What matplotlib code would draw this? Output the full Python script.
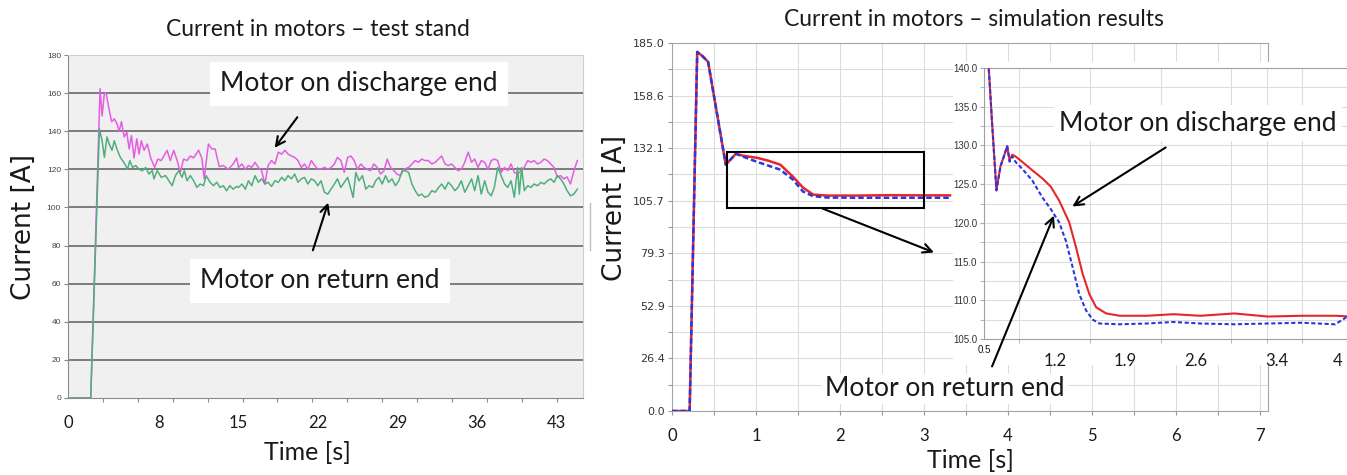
import numpy as np
import matplotlib
matplotlib.use("Agg")
import matplotlib.pyplot as plt
from matplotlib.patches import Rectangle, FancyArrowPatch
from matplotlib.lines import Line2D
from matplotlib.ticker import MultipleLocator, FixedLocator

# ---- test stand data ----
t_dis = [0, 2.0, 2.82, 3.0, 3.2, 3.35, 3.63, 3.84, 4.07, 4.3, 4.5, 4.7, 4.94, 5.17, 5.38, 5.58, 5.81, 6.05,
         6.25, 6.45, 6.69, 6.98, 7.27, 7.62, 7.9, 8.2, 8.43, 8.72, 9.0, 9.3, 9.6, 9.88, 10.17, 10.47, 10.76,
         11.05, 11.48, 11.77, 11.98, 12.35, 12.65, 12.94, 13.3, 13.66, 14.1, 14.53, 14.83,
         15.0, 15.3, 15.6, 15.87, 16.16, 16.45, 16.74, 17.03, 17.32, 17.6, 17.9, 18.2, 18.5, 18.8, 19.07,
         19.36, 19.65, 19.94, 20.23, 20.52, 20.8, 21.1, 21.4, 21.7, 21.97, 22.26, 22.55, 22.85, 23.14, 23.43,
         23.7, 24.0, 24.3, 24.6, 24.88, 25.17, 25.46, 25.75, 26.04, 26.33, 26.6, 26.9, 27.2, 27.5, 27.8,
         28.08, 28.37, 28.66, 28.95, 29.24, 29.53,
         29.96, 30.25, 30.54, 30.83, 31.1, 31.4, 31.7, 32.0, 32.3, 32.6, 32.87, 33.16, 33.45, 33.74, 34.03,
         34.3, 34.6, 34.9, 35.2, 35.5, 35.77, 36.07, 36.35, 36.65, 36.94, 37.23, 37.5, 37.8, 38.1, 38.4,
         38.68, 38.97, 39.26, 39.55, 39.84, 40.14, 40.43, 40.72, 41.0, 41.3, 41.6, 41.88, 42.17, 42.46,
         42.75, 43.04, 43.33, 43.62, 43.9, 44.2, 44.5, 44.8]
cur_dis = [0, 0, 162.3, 148, 160, 160, 151, 145, 146.5, 144, 140, 145, 137, 139.5, 130.7, 137.7, 126, 136,
           128, 135, 130, 133.3, 126, 121, 125.4, 124.6, 127, 130, 124.6, 130, 124.6, 118.4, 125.4, 124.6, 127,
           126, 130, 126, 115, 133.3, 130.7, 130.7, 121.4, 122, 120, 122.8, 126,
           121, 122.8, 120, 122, 121, 123.7, 121, 119.3, 112.3, 122, 124.6, 122.8, 129, 128, 130,
           128, 127, 126.3, 124.6, 121, 122.8, 120, 124.6, 122, 120, 120, 121, 120, 121, 122.8,
           126.3, 124.6, 118.4, 126.3, 127, 124.6, 120, 122.8, 121, 120, 119.3, 122.8, 121, 117.5, 119.3,
           125.4, 121, 119.3, 117.5, 116.7, 120,
           121, 122.8, 124.6, 123.7, 125.4, 124.6, 124.6, 122.8, 123.7, 125.4, 127, 122.8, 122, 122.8, 121,
           119.3, 120, 123.7, 129, 123.7, 125.4, 121, 124.6, 123.7, 120, 124.6, 125.4, 124.6, 118.4, 121,
           119.3, 122.8, 118.4, 117.5, 119.3, 121, 124.6, 123.7, 124.6, 122.8, 123.7, 125.4, 124.6, 122.8,
           121, 116, 116.7, 115, 116, 112.3, 119.3, 124.6]

t_ret = [0, 2.0, 2.76, 3.0, 3.2, 3.43, 3.63, 3.87, 4.07, 4.3, 4.6, 4.8, 5.0, 5.23, 5.44, 5.67, 5.96, 6.25,
         6.54, 6.83, 7.12, 7.41, 7.56, 7.85, 8.2, 8.58, 8.87, 9.16, 9.45, 9.74, 10.03, 10.23, 10.47, 10.76,
         11.05, 11.34, 11.63, 11.92, 12.15, 12.5, 12.8, 13.08, 13.37, 13.66, 13.95, 14.24, 14.53, 14.83,
         15.0, 15.3, 15.6, 15.87, 16.16, 16.45, 16.74, 17.03, 17.32, 17.6, 17.9, 18.2, 18.5, 18.8, 19.07,
         19.36, 19.65, 19.94, 20.23, 20.52, 20.8, 21.1, 21.4, 21.7, 21.97, 22.26, 22.55, 22.85, 23.14, 23.43,
         23.7, 24.0, 24.3, 24.6, 24.88, 25.08, 25.32, 25.6, 25.9, 26.2, 26.48, 26.8, 27.06, 27.35, 27.64,
         27.93, 28.2, 28.5, 28.8, 29.1, 29.4,
         29.67, 29.96, 30.25, 30.54, 30.83, 31.1, 31.4, 31.7, 32.0, 32.3, 32.6, 32.87, 33.16, 33.45, 33.74,
         34.03, 34.3, 34.6, 34.9, 35.2, 35.5, 35.77, 36.07, 36.35, 36.65, 36.94, 37.23, 37.5, 37.8, 38.1,
         38.4, 38.68, 38.97, 39.26, 39.55, 39.7, 39.9, 40.14, 40.43, 40.72, 41.0, 41.3, 41.6, 41.88, 42.17,
         42.46, 42.75, 43.04, 43.33, 43.62, 43.9, 44.2, 44.5, 44.8]
cur_ret = [0, 0, 141.2, 135, 126.3, 137, 133.3, 130, 135, 130.7, 126.3, 124.6, 122.8, 120, 124.6, 121, 122, 120,
           119.3, 121, 117.5, 119.3, 115, 119.3, 115.8, 116.7, 114, 111.4, 116.7, 119.3, 115.8, 119.3, 114, 116.7,
           114, 110.5, 112.3, 111.4, 116.7, 113.2, 111.4, 113.2, 110.5, 111.4, 108.8, 111.4, 109.6, 111,
           110.5, 112.3, 109.6, 114, 111.4, 116.7, 113.2, 115, 112.3, 113.2, 111, 114, 113.2, 115.8, 114,
           116.7, 115, 117.5, 113.2, 115, 115.8, 112.3, 115, 114, 111.4, 114, 108, 107, 109.6, 112.3,
           115, 110.5, 113.2, 115.8, 109.6, 105.3, 118.4, 114, 116.7, 109.6, 111.4, 110.5, 114, 115.8, 112.3,
           116.7, 113.2, 115, 111.4, 114, 119.3,
           119.3, 118.4, 112.3, 108.8, 106.1, 107, 105.3, 106.1, 108.8, 108, 110.5, 112.3, 109.6, 113.2, 111.4,
           108.8, 110.5, 114, 108, 111.4, 115, 108.8, 116.7, 107, 114, 108, 106.1, 110.5, 121, 116.7,
           112.3, 110.5, 114, 105.3, 121, 107, 121, 108.8, 111.4, 110.5, 112.3, 111.4, 113.2, 112.3, 114,
           115, 113.2, 116.7, 115, 112.3, 108.8, 106.1, 107, 109.6]

stand_xlabels = [0, 8, 15, 22, 29, 36, 43]
stand_yticks = list(range(0, 181, 20))

# ---- simulation data ----
t_sim = [0, 0.21, 0.30, 0.36, 0.43, 0.64, 0.76, 0.85, 1.01, 1.15, 1.29, 1.44, 1.56, 1.68, 1.85, 2.2, 2.6, 3.0, 3.31]
red_sim = [0, 0, 180.5, 178.5, 175.5, 123.8, 129.3, 128.3, 127.3, 125.8, 123.8, 117.8, 112.3, 108.8, 108.3,
           108.3, 108.5, 108.4, 108.4]
blue_sim = [0, 0, 180.5, 178.5, 175.5, 123.8, 129.3, 127.8, 125.3, 123.3, 121.3, 116.3, 110.3, 108.0, 107.3,
            107.2, 107.2, 107.2, 107.2]

t_red_zoom = [0.52, 0.547, 0.58, 0.623, 0.663, 0.697, 0.73, 0.753, 0.78, 0.81, 0.877, 0.977, 1.077, 1.16, 1.243,
              1.343, 1.41, 1.477, 1.543, 1.61, 1.71, 1.843, 2.11, 2.377, 2.643, 2.977, 3.31, 3.643, 3.977, 4.15]
red_zoom = [145, 140, 132.9, 124.2, 127.3, 128.6, 129.9, 128.1, 128.8, 128.6, 127.9, 126.8, 125.75, 124.7, 122.9,
            120.1, 116.9, 113.4, 110.8, 109.1, 108.3, 108.0, 108.0, 108.2, 108.0, 108.3, 107.9, 108.0, 108.0, 107.9]
t_blue_zoom = [0.52, 0.547, 0.58, 0.623, 0.663, 0.697, 0.73, 0.753, 0.78, 0.81, 0.877, 0.977, 1.077, 1.16, 1.243,
               1.31, 1.377, 1.443, 1.51, 1.577, 1.643, 1.843, 2.11, 2.377, 2.643, 2.977, 3.31, 3.643, 3.977,
               4.087, 4.15]
blue_zoom = [145, 140, 132.9, 124.2, 127.3, 128.6, 129.9, 127.9, 128.6, 127.9, 127, 125.5, 123.3, 121.8, 120.1,
             117.7, 114.3, 110.8, 108.7, 107.5, 107.0, 106.9, 107.0, 107.2, 107.0, 106.9, 107.0, 107.1, 106.9,
             107.8, 107.6]

sim_yticks = [185 * k / 7 for k in range(8)]
zoom_xticks = [0.5, 1.2, 1.9, 2.6, 3.4, 4]
zoom_yticks = [105, 110, 115, 120, 125, 130, 135, 140]

W, H = 1347, 475
TXT = "#1a1a1a"
CAL = "Lato"


def fx(x):
    return x / W


def fy(y):
    return 1 - y / H


def box(x0, y0, x1, y1):
    return [fx(x0), fy(y1), fx(x1) - fx(x0), fy(y0) - fy(y1)]


fig = plt.figure(figsize=(W / 100, H / 100), dpi=100)

# ---------------- left: test stand ----------------
ax1 = fig.add_axes(box(68, 55, 583, 398))
ax1.set_facecolor("#f0f0f0")
for v in stand_yticks[1:-1]:
    ax1.axhline(v, color="#5c5c5c", lw=1.1, zorder=1)
ax1.plot(t_dis, cur_dis, color="#e35ee3", lw=1.1, zorder=2)
ax1.plot(t_ret, cur_ret, color="#4fae7c", lw=1.1, zorder=3)
ax1.set_xlim(0, 45.3)
ax1.set_ylim(0, 180)
ax1.set_yticks(stand_yticks, [str(v) for v in stand_yticks], fontsize=6, fontfamily="Liberation Sans", color="#444")
ax1.tick_params(axis="y", length=3, width=0.8, color="#888", pad=2)
ax1.set_xticks(stand_xlabels, [str(v) for v in stand_xlabels], fontsize=12, fontfamily=CAL, color=TXT)
ax1.tick_params(axis="x", which="major", length=0, pad=12)
ax1.xaxis.set_minor_locator(FixedLocator(np.arange(0, 45, 3.07)))
ax1.tick_params(axis="x", which="minor", length=3, width=0.8, color="#888")
for s in ["top", "right"]:
    ax1.spines[s].set_color("#cfcfcf")
for s in ["left", "bottom"]:
    ax1.spines[s].set_color("#8a8a8a")

fig.text(fx(318), fy(30), "Current in motors – test stand", ha="center", va="center",
         fontsize=16.5, fontfamily=CAL, color=TXT)
fig.text(fx(307), fy(453), "Time [s]", ha="center", va="center", fontsize=18, fontfamily=CAL, color=TXT)
fig.text(fx(24), fy(227), "Current [A]", ha="center", va="center", rotation=90, fontsize=19,
         fontfamily="DejaVu Sans", color=TXT)
fig.add_artist(Line2D([fx(590), fx(590)], [fy(203), fy(250)], transform=fig.transFigure, color="#c0c0c0", lw=1))

# ---------------- right: simulation ----------------
grid_c = "#dcdcdc"
ax2 = fig.add_axes(box(672, 43, 1268, 411))
ax2.set_zorder(1)
ax2.plot(t_sim, red_sim, color="#e8262a", lw=1.8, zorder=3)
ax2.plot(t_sim, blue_sim, color="#2b35e0", lw=1.8, ls=(0, (2.2, 1.2)), zorder=4)
ax2.set_xlim(0, 7.095)
ax2.set_ylim(0, 185)
ax2.set_yticks(sim_yticks, [f"{v:.1f}" for v in sim_yticks], fontsize=8,
               fontfamily="Liberation Sans Narrow", color="#333")
ax2.yaxis.set_minor_locator(MultipleLocator(185 / 14))
ax2.set_xticks(range(8), [str(v) for v in range(8)], fontsize=12, fontfamily=CAL, color=TXT)
ax2.xaxis.set_minor_locator(MultipleLocator(0.5))
ax2.tick_params(which="both", length=3, width=0.8, color="#999")
ax2.tick_params(axis="x", pad=9)
ax2.tick_params(axis="y", pad=2)
ax2.grid(True, which="both", color=grid_c, lw=0.8)
ax2.set_axisbelow(True)
for s in ax2.spines.values():
    s.set_color("#a5a5a5")
ax2.add_patch(Rectangle((0.655, 102.3), 2.345, 28, fill=False, ec="black", lw=1.5, zorder=5))
ax2.annotate("", xy=(3.15, 79.2), xytext=(1.76, 102.3),
             arrowprops=dict(arrowstyle="->", lw=1.5, color="black", mutation_scale=16), zorder=6)

# white backing of the zoomed view
fig.add_artist(Rectangle((fx(953), fy(365)), fx(1347) - fx(953), fy(62) - fy(365),
                         transform=fig.transFigure, fc="white", ec="none", zorder=2))

ax3 = fig.add_axes(box(984, 68, 1347, 339))
ax3.set_zorder(3)
ax3.plot(t_red_zoom, red_zoom, color="#e8262a", lw=1.5, zorder=3)
ax3.plot(t_blue_zoom, blue_zoom, color="#2b35e0", lw=1.5, ls=(0, (2.0, 1.2)), zorder=4)
ax3.set_xlim(0.5, 0.5 + 363 / 101)
ax3.set_ylim(105, 140)
ax3.set_xticks(zoom_xticks, [str(v) for v in zoom_xticks], fontsize=12, fontfamily=CAL, color=TXT)
ax3.xaxis.set_minor_locator(FixedLocator(np.arange(0.5, 4.1, 0.35)))
ax3.tick_params(axis="x", which="major", length=0, pad=10)
ax3.tick_params(axis="x", which="minor", length=3, color="#aaa")
first = ax3.xaxis.get_major_ticks()[0]
first.label1.set_fontsize(7)
first.label1.set_fontfamily("Liberation Sans")
first.set_pad(4)
ax3.set_yticks(zoom_yticks, [f"{v:.1f}" for v in zoom_yticks], fontsize=7,
               fontfamily="Liberation Sans", color="#333")
ax3.yaxis.set_minor_locator(MultipleLocator(2.5))
ax3.tick_params(axis="y", which="both", length=3, color="#aaa", pad=2)
ax3.xaxis.grid(True, which="minor", color=grid_c, lw=0.8)
ax3.yaxis.grid(True, which="both", color=grid_c, lw=0.8)
ax3.set_axisbelow(True)
ax3.spines["right"].set_visible(False)
for s in ["top", "left", "bottom"]:
    ax3.spines[s].set_color("#a0a0a0")

fig.text(fx(974), fy(19), "Current in motors – simulation results", ha="center", va="center",
         fontsize=16.5, fontfamily=CAL, color=TXT)
fig.text(fx(970), fy(461), "Time [s]", ha="center", va="center", fontsize=18, fontfamily=CAL, color=TXT)
fig.text(fx(615), fy(208), "Current [A]", ha="center", va="center", rotation=90, fontsize=19,
         fontfamily="DejaVu Sans", color=TXT)

# ---------------- callouts ----------------
callouts = [
    ("Motor on discharge end", 359, 84, 7),
    ("Motor on return end", 320, 281, 7),
    ("Motor on discharge end", 1198, 123, 4),
    ("Motor on return end", 945, 389, 2),
]
for label, cx, cy, pad in callouts:
    fig.text(fx(cx), fy(cy), label, ha="center", va="center", fontsize=19, fontfamily=CAL, color=TXT,
             zorder=5, bbox=dict(fc="white", ec="none", pad=pad))

arrows = [((299, 115), (273, 150)), ((312, 253), (329, 200)),
          ((1168, 146), (1070, 208)), ((991, 369), (1055, 213))]
for (x0, y0), (x1, y1) in arrows:
    fig.add_artist(FancyArrowPatch((fx(x0), fy(y0)), (fx(x1), fy(y1)), transform=fig.transFigure,
                                   arrowstyle="->", mutation_scale=16, lw=1.5, color="black", zorder=6))

fig.savefig("out.png", dpi=100, facecolor="white")
